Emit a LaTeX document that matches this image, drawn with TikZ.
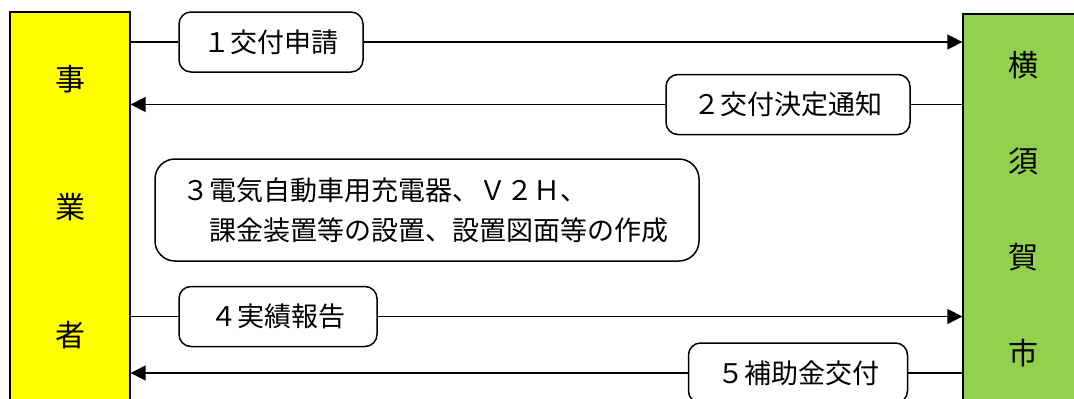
\documentclass[tikz,border=0pt]{standalone}
\usepackage{fontspec}
\usepackage{xcolor}
\usetikzlibrary{arrows.meta}
\newfontfamily\jpfont{Noto Sans CJK JP}
\definecolor{bizyellow}{HTML}{FFFF00}
\definecolor{citygreen}{HTML}{92D050}
\newcommand{\Lbl}{\jpfont\fontsize{27}{40}\selectfont}

\begin{document}
\begin{tikzpicture}[>={Triangle[length=15pt,width=15pt]}, x=1pt, y=-1pt,
    side/.style={draw, line width=1.3pt, minimum width=120pt, minimum height=390pt,
      inner sep=0pt, align=center},
    lbl/.style={draw, fill=white, line width=1.5pt, rounded corners=12pt,
      minimum height=60pt, inner sep=0pt, font=\Lbl},
    link/.style={line width=1.5pt}]

    \useasboundingbox (0,0) rectangle (1074,399);
    \clip (0,0) rectangle (1074,399);

    \draw(70,207) node[side, fill=bizyellow, font=\jpfont\fontsize{30}{128}\selectfont] (A) {事\\業\\者};
    \draw(1023,209) node[side, fill=citygreen, font=\jpfont\fontsize{30}{96}\selectfont] (B) {横\\須\\賀\\市};

    \draw(271,42) node[lbl, minimum width=184pt] (L1) {１交付申請};
    \draw(788,104.5) node[lbl, minimum width=244pt] (L2) {２交付決定通知};
    \draw(427,210) node[lbl, rounded corners=20pt, minimum height=102pt,
      text width=490pt, inner xsep=27pt, align=left] (L3)
      {３電気自動車用充電器、Ｖ２Ｈ、\\　課金装置等の設置、設置図面等の作成};
    \draw(278,316.5) node[lbl, minimum width=198pt] (L4) {４実績報告\hspace{14pt}};
    \draw(798,373) node[lbl, minimum width=219pt] (L5) {５補助金交付};

    \draw[link] (A.east |- L1) -- (L1.west);
    \draw[link, ->] (L1.east) -- (B.west |- L1);
    \draw[link] (B.west |- L2) -- (L2.east);
    \draw[link, ->] (L2.west) -- (A.east |- L2);
    \draw[link] (A.east |- L4) -- (L4.west);
    \draw[link, ->] (L4.east) -- (B.west |- L4);
    \draw[link] (B.west |- L5) -- (L5.east);
    \draw[link, ->] (L5.west) -- (A.east |- L5);

    \end{tikzpicture}
\end{document}
